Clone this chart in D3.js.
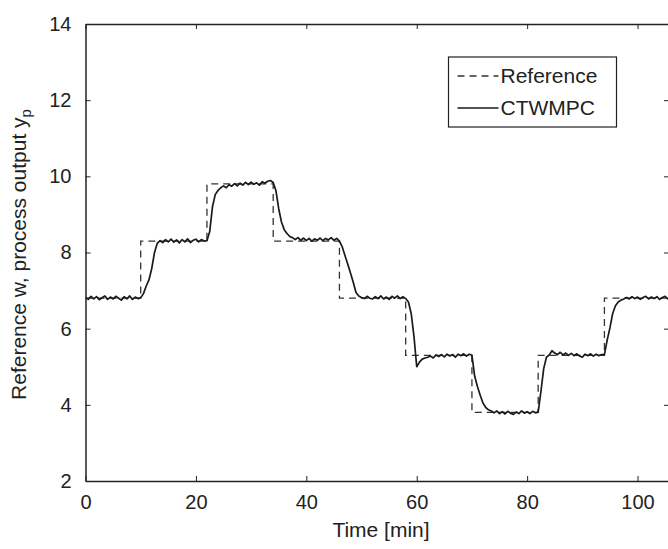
<!DOCTYPE html>
<html>
<head>
<meta charset="utf-8">
<script src="https://cdn.jsdelivr.net/npm/d3@7"></script>
<style>
    body { margin: 0; background: #fff; }
    svg { display: block; font-family: "Liberation Sans", Arial, sans-serif; }
    .tick-label { font-size: 20px; fill: #222; }
    .axis-label { font-size: 21px; fill: #222; }
</style>
</head>
<body>
<div id="chart"></div>
<script>
// Reference signal w: step times [min] and levels
const refTimes = [0, 10, 22, 34, 46, 58, 70, 82, 94, 106];
const refLevels = [6.8, 8.3, 9.8, 8.3, 6.8, 5.3, 3.8, 5.3, 6.8, 6.8];

// CTWMPC process output y_p, sampled every 0.5 min from t = 0
const sampleStep = 0.5;
const ctwmpcOutput = [
    6.82, 6.77, 6.85, 6.78, 6.84, 6.76, 6.81, 6.86, 6.77, 6.83, 6.78, 6.85, 6.80, 6.75, 6.84, 6.78, 6.86, 6.77, 6.83, 6.79, 6.81,
    6.92, 7.12, 7.28, 7.58, 8.00, 8.24, 8.31, 8.26, 8.34, 8.28, 8.35, 8.27, 8.33, 8.25, 8.34, 8.28, 8.36, 8.26, 8.32, 8.35, 8.28, 8.34, 8.30, 8.31,
    8.55, 9.20, 9.52, 9.63, 9.70, 9.75, 9.70, 9.78, 9.74, 9.81, 9.75, 9.82, 9.77, 9.84, 9.78, 9.85, 9.79, 9.83, 9.77, 9.86, 9.82, 9.87, 9.89, 9.84,
    9.62, 9.15, 8.80, 8.60, 8.50, 8.42, 8.39, 8.34, 8.39, 8.32, 8.38, 8.31, 8.37, 8.30, 8.36, 8.32, 8.38, 8.31, 8.37, 8.33, 8.39, 8.32, 8.37, 8.30,
    8.15, 7.92, 7.70, 7.46, 7.22, 6.95, 6.86, 6.82, 6.79, 6.85, 6.80, 6.78, 6.84, 6.79, 6.86, 6.78, 6.83, 6.77, 6.85, 6.80, 6.86, 6.79, 6.84, 6.79,
    6.70, 6.40, 5.80, 5.00, 5.12, 5.20, 5.23, 5.25, 5.28, 5.23, 5.31, 5.27, 5.32, 5.26, 5.33, 5.28, 5.32, 5.25, 5.33, 5.29, 5.34, 5.28, 5.33, 5.30,
    4.75, 4.48, 4.25, 4.05, 3.93, 3.87, 3.84, 3.79, 3.84, 3.77, 3.82, 3.76, 3.83, 3.78, 3.75, 3.81, 3.77, 3.84, 3.78, 3.82, 3.77, 3.83, 3.79, 3.81,
    4.35, 4.95, 5.25, 5.31, 5.42, 5.36, 5.32, 5.38, 5.31, 5.36, 5.30, 5.35, 5.29, 5.34, 5.28, 5.25, 5.33, 5.29, 5.34, 5.28, 5.33, 5.29, 5.32, 5.32,
    5.70, 6.02, 6.40, 6.60, 6.70, 6.75, 6.78, 6.82, 6.78, 6.84, 6.79, 6.83, 6.77, 6.82, 6.85, 6.78, 6.83, 6.79, 6.84, 6.77, 6.82, 6.85, 6.78, 6.81
];

const xTicks = [0, 20, 40, 60, 80, 100];
const yTicks = [2, 4, 6, 8, 10, 12, 14];
const legendLabels = ["Reference", "CTWMPC"];

const W = 668, H = 549;
const margin = { top: 24, right: -1, bottom: 68, left: 85.5 };
const width = W - margin.left - margin.right,
      height = H - margin.top - margin.bottom;

const svg = d3.select("#chart").append("svg")
    .attr("width", W)
    .attr("height", H);

const g = svg.append("g")
    .attr("transform", "translate(" + margin.left + "," + margin.top + ")");

const x = d3.scaleLinear().domain([0, 105.7]).range([0, width]);
const y = d3.scaleLinear().domain([2, 14]).range([height, 0]);

g.append("clipPath").attr("id", "clip")
  .append("rect").attr("width", width).attr("height", height);

const plot = g.append("g").attr("clip-path", "url(#clip)");

// reference (dashed, stepped)
const refData = refTimes.map((t, i) => ({ t: t, v: refLevels[i] }));
plot.append("path")
    .datum(refData)
    .attr("fill", "none")
    .attr("stroke", "#333")
    .attr("stroke-width", 1.3)
    .attr("stroke-dasharray", "7,5")
    .attr("d", d3.line().curve(d3.curveStepAfter).x(d => x(d.t)).y(d => y(d.v)));

// process output
const outData = ctwmpcOutput.map((v, i) => ({ t: i * sampleStep, v: v }));
plot.append("path")
    .datum(outData)
    .attr("fill", "none")
    .attr("stroke", "#1a1a1a")
    .attr("stroke-width", 1.7)
    .attr("stroke-linejoin", "round")
    .attr("d", d3.line().x(d => x(d.t)).y(d => y(d.v)));

// axes with inward ticks on all four sides
const tickLen = 5;
const axisStyle = sel => {
    sel.select(".domain").attr("stroke", "#222").attr("stroke-width", 1.5);
    sel.selectAll(".tick line").attr("stroke", "#222").attr("stroke-width", 1);
    sel.selectAll(".tick text").attr("class", "tick-label").attr("font-size", null).attr("font-family", null);
};

g.append("g")
    .attr("transform", "translate(0," + height + ")")
    .call(d3.axisBottom(x).tickValues(xTicks).tickSizeInner(-tickLen).tickSizeOuter(0).tickPadding(14))
    .call(axisStyle);

g.append("g")
    .call(d3.axisTop(x).tickValues(xTicks).tickSizeInner(-tickLen).tickSizeOuter(0).tickFormat(""))
    .call(axisStyle);

g.append("g")
    .call(d3.axisLeft(y).tickValues(yTicks).tickSizeInner(-tickLen).tickSizeOuter(0).tickPadding(14))
    .call(axisStyle);

g.append("g")
    .attr("transform", "translate(" + width + ",0)")
    .call(d3.axisRight(y).tickValues(yTicks).tickSizeInner(-tickLen).tickSizeOuter(0).tickFormat(""))
    .call(axisStyle);

// axis labels
svg.append("text")
    .attr("x", 381)
    .attr("y", 537)
    .attr("text-anchor", "middle")
    .attr("class", "axis-label")
    .text("Time [min]");

const yLabel = svg.append("text")
    .attr("transform", "translate(26," + (margin.top + height / 2 + 2) + ") rotate(-90)")
    .attr("text-anchor", "middle")
    .attr("class", "axis-label");
yLabel.append("tspan").text("Reference w, process output y");
yLabel.append("tspan").attr("font-size", "15px").attr("dy", 5).text("p");

// legend
const legend = svg.append("g").attr("transform", "translate(448.5,57)");
legend.append("rect")
    .attr("width", 168)
    .attr("height", 70)
    .attr("fill", "#fff")
    .attr("stroke", "#222")
    .attr("stroke-width", 1.2);

const legendStyles = [
    { dash: "7,5", width: 1.3, color: "#333" },
    { dash: null, width: 1.7, color: "#1a1a1a" }
];
legendLabels.forEach((label, i) => {
    const rowY = 19 + i * 32;
    legend.append("line")
        .attr("x1", 9).attr("x2", 50)
        .attr("y1", rowY).attr("y2", rowY)
        .attr("stroke", legendStyles[i].color)
        .attr("stroke-width", legendStyles[i].width)
        .attr("stroke-dasharray", legendStyles[i].dash);
    legend.append("text")
        .attr("x", 52)
        .attr("y", rowY + 7)
        .attr("class", "axis-label")
        .text(label);
});
</script>
</body>
</html>
